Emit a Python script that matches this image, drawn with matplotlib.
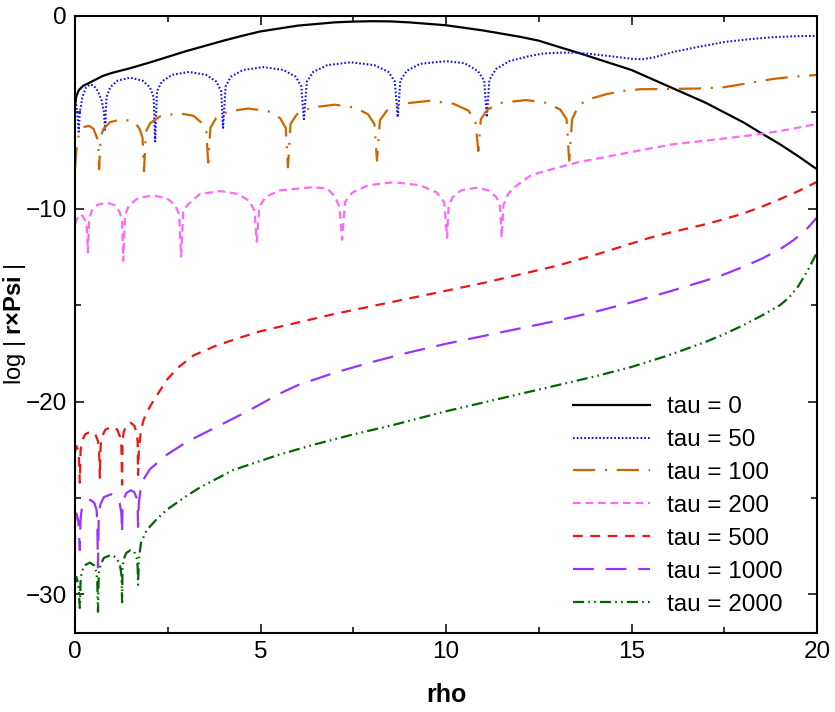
import matplotlib
matplotlib.use('Agg')
import matplotlib.pyplot as plt
from matplotlib.ticker import MultipleLocator

plt.rcParams['font.family'] = ['Liberation Sans', 'DejaVu Sans']
plt.rcParams['mathtext.fontset'] = 'custom'
plt.rcParams['mathtext.rm'] = 'Liberation Sans'
plt.rcParams['mathtext.bf'] = 'Liberation Sans:bold'
plt.rcParams['lines.scale_dashes'] = False

# ── data (rho, log|r x Psi|) ────────────────────────────────────────
rho_t0 = [0, 0.03, 0.1, 0.22, 0.35, 0.5, 0.76, 1.0, 1.5, 2.0, 2.5, 3.0, 3.5, 4.0,
          4.5, 5.0, 6.0, 7.0, 7.5, 8.0, 8.5, 9.0, 10.0, 11.0, 12.0, 12.5, 13.0,
          13.5, 14.0, 15.0, 16.0, 17.0, 17.5, 18.0, 18.5, 19.0, 19.5, 20.0]
log_t0 = [-4.7, -4.2, -3.85, -3.62, -3.5, -3.35, -3.1, -2.95, -2.7, -2.42, -2.12,
          -1.82, -1.55, -1.28, -1.03, -0.8, -0.5, -0.33, -0.29, -0.27, -0.28, -0.33,
          -0.48, -0.75, -1.08, -1.28, -1.58, -1.87, -2.18, -2.8, -3.65, -4.5, -5.0,
          -5.5, -6.08, -6.65, -7.28, -7.95]

rho_t50 = [0, 0.02, 0.06, 0.1, 0.13, 0.2, 0.3, 0.4, 0.5, 0.62, 0.72, 0.78, 0.81,
           0.85, 0.95, 1.15, 1.48, 1.82, 2.02, 2.12, 2.16,
           2.21, 2.34, 2.62, 3.07, 3.53, 3.81, 3.94, 3.99,
           4.06, 4.2, 4.53, 5.08, 5.62, 5.95, 6.1, 6.17,
           6.25, 6.42, 6.8, 7.43, 8.07, 8.45, 8.62, 8.7,
           8.77, 8.94, 9.3, 9.9, 10.05, 10.5, 10.86, 11.03, 11.1,
           11.17, 11.35, 11.7, 12.2, 12.6, 13.07, 13.5, 13.9, 14.5, 15.0, 15.3,
           15.6, 16.1, 16.8, 17.5, 18.2, 18.8, 19.4, 20.0]
log_t50 = [-4.2, -4.4, -5.0, -6.0, -5.0, -4.2, -3.7, -3.55, -3.6, -3.9, -4.4, -5.0, -5.9,
           -4.2, -3.7, -3.35, -3.2, -3.35, -3.7, -4.2, -6.5,
           -3.9, -3.4, -3.05, -2.9, -3.05, -3.4, -3.9, -5.8,
           -3.65, -3.15, -2.8, -2.65, -2.8, -3.15, -3.65, -5.35,
           -3.4, -2.9, -2.55, -2.4, -2.55, -2.9, -3.4, -5.25,
           -3.35, -2.85, -2.48, -2.36, -2.35, -2.45, -2.85, -3.35, -5.25,
           -3.3, -2.75, -2.35, -2.1, -1.95, -1.9, -1.9, -1.97, -2.1, -2.22, -2.24,
           -2.15, -1.88, -1.6, -1.35, -1.2, -1.1, -1.05, -1.03]

rho_t100 = [0, 0.05, 0.12, 0.25, 0.38, 0.5, 0.6, 0.63, 0.65,
            0.69, 0.77, 0.95, 1.28, 1.6, 1.74, 1.82, 1.86,
            1.91, 2.03, 2.3, 2.8, 3.2, 3.42, 3.54, 3.59,
            3.65, 3.8, 4.13, 4.67, 5.2, 5.53, 5.68, 5.74,
            5.81, 5.98, 6.35, 7.0, 7.55, 7.9, 8.07, 8.14,
            8.22, 8.41, 8.82, 9.55, 10.2, 10.6, 10.79, 10.87,
            10.94, 11.12, 11.5, 12.15, 12.7, 13.08, 13.25, 13.32,
            13.4, 13.57, 13.8, 14.33, 14.8, 15.23, 16.1, 16.8, 17.47, 18.1,
            18.8, 19.4, 20.0]
log_t100 = [-7.95, -6.6, -6.05, -5.75, -5.7, -5.85, -6.35, -6.9, -7.95,
            -6.3, -5.85, -5.5, -5.35, -5.5, -5.85, -6.3, -8.05,
            -6.0, -5.55, -5.2, -5.04, -5.18, -5.55, -6.0, -7.6,
            -5.8, -5.3, -4.95, -4.8, -4.93, -5.3, -5.8, -7.85,
            -5.6, -5.1, -4.75, -4.6, -4.75, -5.1, -5.6, -7.5,
            -5.4, -4.9, -4.55, -4.4, -4.55, -4.9, -5.4, -7.0,
            -5.35, -4.85, -4.5, -4.36, -4.5, -4.85, -5.35, -7.5,
            -5.35, -4.66, -4.35, -4.05, -3.88, -3.8, -3.78, -3.76, -3.7, -3.5,
            -3.27, -3.14, -3.06]

rho_t200 = [0, 0.05, 0.12, 0.2, 0.27, 0.32, 0.35,
            0.38, 0.45, 0.6, 0.85, 1.07, 1.2, 1.27, 1.3,
            1.35, 1.46, 1.7, 2.1, 2.47, 2.7, 2.81, 2.86,
            2.92, 3.06, 3.37, 3.92, 4.4, 4.7, 4.84, 4.9,
            4.97, 5.13, 5.5, 6.4, 6.8, 7.0, 7.13, 7.2,
            7.28, 7.48, 7.9, 8.6, 9.3, 9.75, 9.95, 10.03,
            10.07, 10.18, 10.4, 10.85, 11.15, 11.36, 11.46, 11.5,
            11.55, 11.67, 11.8, 12.26, 12.53, 13.0, 13.6, 14.33, 15.2, 16.13,
            17.3, 18.46, 19.2, 20.0]
log_t200 = [-10.8, -10.55, -10.3, -10.35, -10.6, -11.0, -12.26,
            -10.6, -10.1, -9.8, -9.67, -9.82, -10.15, -10.65, -12.7,
            -10.3, -9.8, -9.45, -9.3, -9.45, -9.8, -10.3, -12.47,
            -10.1, -9.75, -9.23, -9.08, -9.23, -9.6, -10.1, -11.7,
            -9.9, -9.4, -9.05, -8.88, -8.95, -9.35, -9.9, -11.6,
            -9.65, -9.15, -8.78, -8.62, -8.78, -9.15, -9.65, -11.5,
            -9.9, -9.4, -9.05, -8.9, -9.05, -9.4, -9.9, -11.5,
            -9.8, -9.25, -8.95, -8.3, -8.12, -7.87, -7.57, -7.3, -6.98, -6.65,
            -6.4, -6.13, -5.9, -5.6]

rho_t500 = [0, 0.04, 0.1, 0.13,
            0.15, 0.19, 0.27, 0.42, 0.55, 0.62, 0.65, 0.67,
            0.69, 0.73, 0.82, 1.0, 1.14, 1.21, 1.25, 1.27,
            1.28, 1.31, 1.38, 1.5, 1.6, 1.66, 1.69, 1.7,
            1.72, 1.77, 1.84, 1.95, 2.1, 2.3, 2.48, 2.8, 3.2, 3.8, 4.5, 5.0,
            6.0, 7.0, 8.0, 9.0, 10.0, 11.0, 12.0, 13.0, 14.0, 15.0, 15.5, 16.0,
            17.0, 17.47, 18.0, 18.5, 19.0, 19.5, 20.0]
log_t500 = [-22.6, -22.3, -22.6, -24.2,
            -22.55, -22.05, -21.7, -21.55, -21.7, -22.05, -22.55, -23.95,
            -22.3, -21.8, -21.45, -21.3, -21.45, -21.8, -22.3, -24.3,
            -22.1, -21.6, -21.25, -21.1, -21.25, -21.6, -22.1, -23.8,
            -22.6, -21.6, -21.0, -20.5, -20.0, -19.4, -18.86, -18.2, -17.6, -17.1,
            -16.65, -16.35, -15.9, -15.45, -15.05, -14.65, -14.25, -13.85, -13.4,
            -12.95, -12.4, -11.8, -11.5, -11.25, -10.8, -10.55, -10.25, -9.9,
            -9.5, -9.08, -8.6]

rho_t1000 = [0, 0.04, 0.09, 0.13,
             0.15, 0.18, 0.25, 0.42, 0.52, 0.58, 0.6, 0.62,
             0.64, 0.69, 0.78, 0.98, 1.12, 1.21, 1.25, 1.27,
             1.28, 1.31, 1.38, 1.5, 1.6, 1.66, 1.69, 1.7,
             1.72, 1.77, 1.84, 2.02, 2.48, 3.0, 3.83, 4.7, 5.5, 6.0, 7.0, 8.0, 9.0,
             10.0, 11.0, 12.0, 13.0, 14.0, 15.0, 16.0, 17.0, 17.5, 18.0, 18.5,
             19.0, 19.35, 19.7, 20.0]
log_t1000 = [-26.2, -25.8, -26.2, -27.7,
             -26.1, -25.6, -25.25, -25.1, -25.25, -25.6, -26.1, -28.6,
             -25.8, -25.3, -24.95, -24.8, -24.95, -25.3, -25.8, -26.8,
             -25.6, -25.1, -24.75, -24.6, -24.7, -25.0, -25.5, -26.5,
             -25.3, -24.5, -24.05, -23.5, -22.75, -22.1, -21.3, -20.45, -19.6,
             -19.15, -18.5, -17.95, -17.45, -17.0, -16.6, -16.2, -15.8, -15.35,
             -14.85, -14.3, -13.72, -13.4, -13.02, -12.6, -12.1, -11.65, -11.1,
             -10.45]

rho_t2000 = [0, 0.04, 0.09, 0.13,
             0.15, 0.18, 0.25, 0.4, 0.52, 0.58, 0.6, 0.62,
             0.64, 0.69, 0.78, 0.98, 1.12, 1.21, 1.25, 1.27,
             1.28, 1.31, 1.38, 1.5, 1.6, 1.66, 1.69, 1.7,
             1.72, 1.78, 1.94, 2.2, 2.48, 3.0, 3.37, 4.26, 5.5, 6.5, 7.5, 8.5,
             10.0, 11.0, 12.0, 13.0, 14.0, 15.0, 16.0, 17.0, 17.5, 18.0, 18.5,
             19.0, 19.25, 19.5, 19.75, 20.0]
log_t2000 = [-29.4, -29.1, -29.5, -30.7,
             -29.35, -28.85, -28.5, -28.35, -28.5, -28.85, -29.35, -30.9,
             -28.95, -28.45, -28.1, -27.95, -28.1, -28.45, -28.95, -30.4,
             -28.7, -28.2, -27.85, -27.7, -27.8, -28.1, -28.6, -29.5,
             -28.2, -27.3, -26.65, -26.1, -25.6, -24.9, -24.45, -23.55, -22.75,
             -22.2, -21.7, -21.25, -20.5, -20.05, -19.6, -19.15, -18.7, -18.2,
             -17.6, -16.9, -16.5, -16.05, -15.55, -15.0, -14.6, -14.0, -13.2,
             -12.26]

labels = ['tau = 0', 'tau = 50', 'tau = 100', 'tau = 200',
          'tau = 500', 'tau = 1000', 'tau = 2000']

# ── styling per curve ───────────────────────────────────────────────
curves = [
    (rho_t0, log_t0, '#000000', '-', 1.6),
    (rho_t50, log_t50, '#1010EE', (0, (1.2, 1.5)), 1.5),
    (rho_t100, log_t100, '#CC6600', (0, (16, 7, 1.5, 7)), 1.6),
    (rho_t200, log_t200, '#FF66FF', (0, (5.5, 3.5)), 1.6),
    (rho_t500, log_t500, '#F01414', (0, (7, 5.5)), 1.6),
    (rho_t1000, log_t1000, '#9933FF', (0, (15, 8.5)), 1.6),
    (rho_t2000, log_t2000, '#006600', (0, (8, 3, 1.2, 3, 1.2, 3)), 1.6),
]

fig = plt.figure(figsize=(8.35, 7.12), dpi=100)
ax = fig.add_axes([75 / 835, 1 - 633 / 712, 742 / 835, 617 / 712])

for (xs, ys, col, ls, lw), lab in zip(curves, labels):
    ax.plot(xs, ys, color=col, linestyle=ls, linewidth=lw, label=lab,
            dash_capstyle='butt')

ax.set_xlim(0, 20)
ax.set_ylim(-32, 0)
ax.xaxis.set_major_locator(MultipleLocator(5))
ax.xaxis.set_minor_locator(MultipleLocator(2.5))
ax.yaxis.set_major_locator(MultipleLocator(10))
ax.yaxis.set_minor_locator(MultipleLocator(5))
ax.tick_params(which='both', direction='in', top=True, right=True,
               labelsize=17.5, width=1.1, pad=6)
ax.tick_params(which='major', length=6.5)
ax.tick_params(which='minor', length=4)
for sp in ax.spines.values():
    sp.set_linewidth(1.5)

ax.set_xlabel('rho', fontsize=18, fontweight='bold')
ax.xaxis.set_label_coords(0.5, -0.081)
ax.xaxis.label.set_va('top')
ax.set_ylabel(r'log | $\mathbf{r×Psi}$ |', fontsize=17)
ax.yaxis.set_label_coords(-0.0633, 0.5)

ax.legend(loc='upper left', bbox_to_anchor=(0.671, 0.384), frameon=False,
          fontsize=17.5, handlelength=3.17, handletextpad=0.7,
          labelspacing=0.45, borderpad=0, borderaxespad=0)

fig.savefig('out.png', dpi=100)
